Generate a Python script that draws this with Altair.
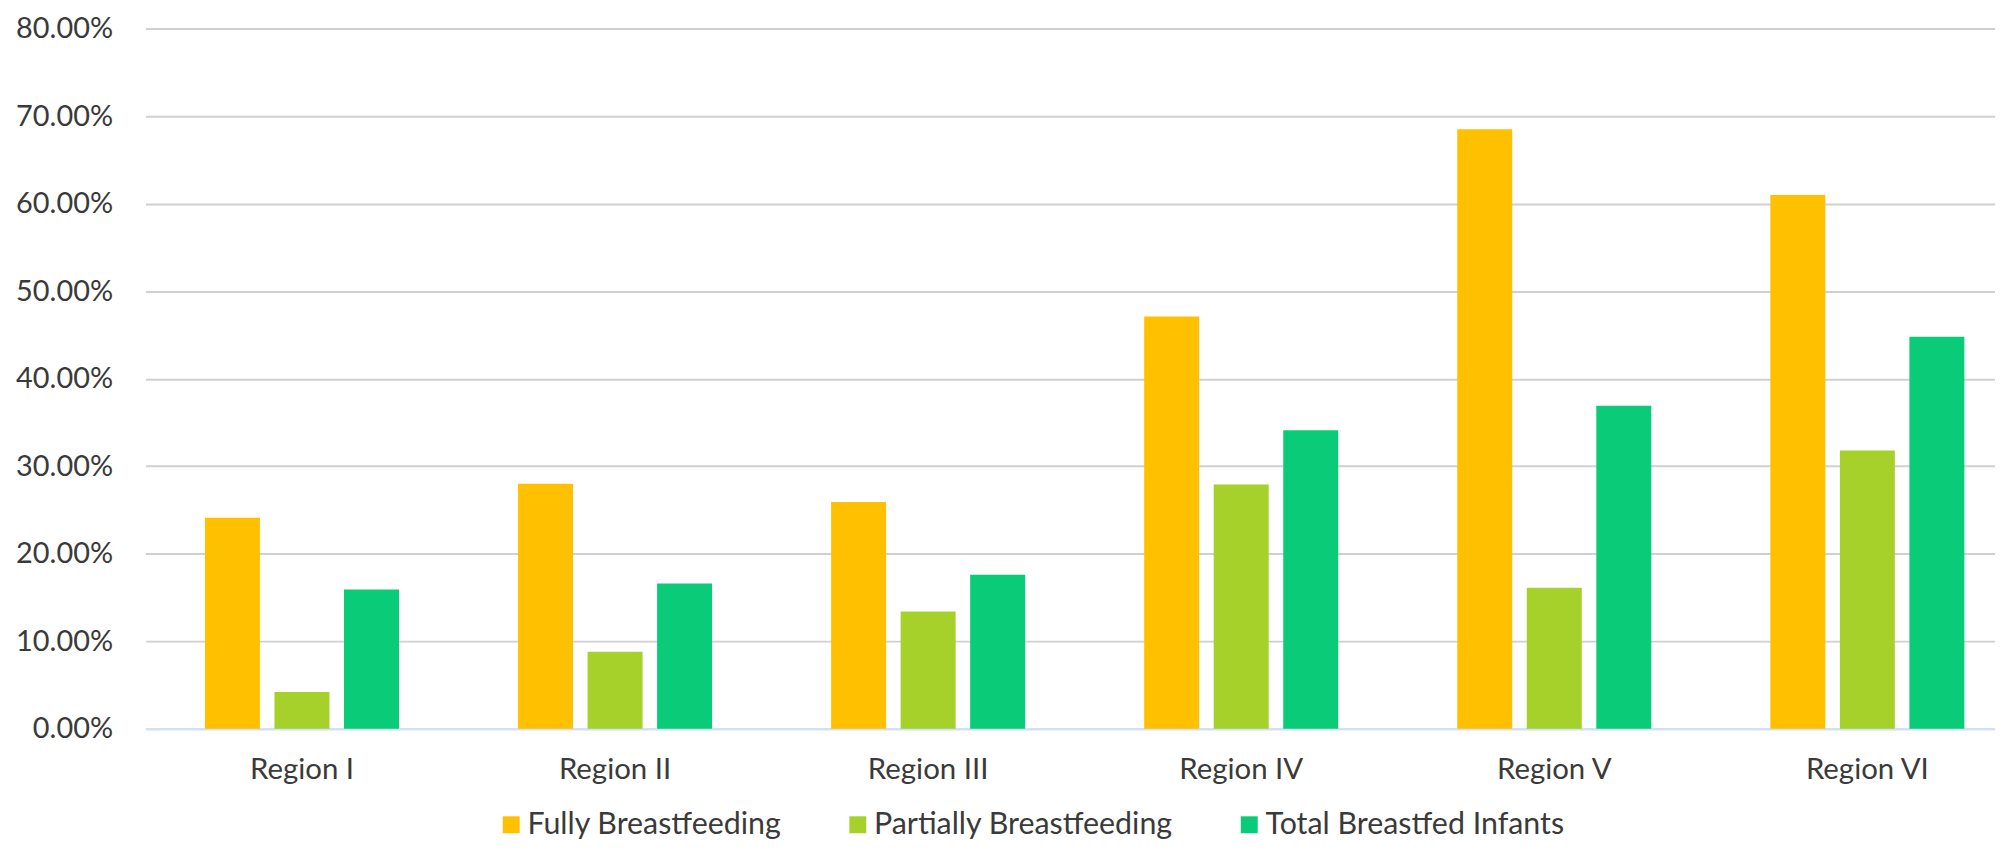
import altair as alt
import pandas as pd

regions = ["Region I", "Region II", "Region III", "Region IV", "Region V", "Region VI"]
series = ["Fully Breastfeeding", "Partially Breastfeeding", "Total Breastfed Infants"]
fully = [0.241, 0.280, 0.259, 0.471, 0.685, 0.610]
partially = [0.042, 0.088, 0.134, 0.279, 0.161, 0.318]
total = [0.159, 0.166, 0.176, 0.341, 0.369, 0.448]
colors = ["#FFC000", "#A6D12B", "#0ACC78"]
y_ticks = [0, 0.1, 0.2, 0.3, 0.4, 0.5, 0.6, 0.7, 0.8]

rows = []
for vals, s in zip([fully, partially, total], series):
    for r, v in zip(regions, vals):
        rows.append({"Region": r, "Series": s, "Value": v})
df = pd.DataFrame(rows)

FONT = "Lato"
TXT = "#3A3A3A"

chart = alt.Chart(df).mark_bar().encode(
    x=alt.X("Region:N", sort=regions, title=None,
            scale=alt.Scale(paddingInner=0, paddingOuter=0, range=[1, 1887]),
            axis=alt.Axis(labelAngle=0, ticks=False, tickSize=0, domain=True,
                          domainColor="#CFE2F6", domainWidth=2,
                          labelFont=FONT, labelFontSize=29.5, labelColor=TXT,
                          labelPadding=27)),
    xOffset=alt.XOffset("Series:N", sort=series,
                        scale=alt.Scale(paddingInner=0.209, paddingOuter=0.856)),
    y=alt.Y("Value:Q", title=None,
            scale=alt.Scale(domain=[0, 0.8], nice=False),
            axis=alt.Axis(format=".2%", values=y_ticks, ticks=False, tickSize=0,
                          domain=False, grid=True, gridColor="#D0D0D0", gridWidth=2,
                          labelFont=FONT, labelFontSize=29, labelColor=TXT,
                          labelPadding=32)),
    color=alt.Color("Series:N", sort=series,
                    scale=alt.Scale(domain=series, range=colors),
                    legend=alt.Legend(title=None, orient="none", direction="horizontal",
                                      legendX=353, legendY=784,
                                      symbolType="square", symbolSize=289,
                                      symbolStrokeWidth=0, symbolOpacity=1,
                                      labelFont=FONT, labelFontSize=30.5, labelColor=TXT,
                                      labelOffset=1, columnPadding=61, labelLimit=0)),
).properties(
    width=1858,
    height=703,
    autosize=alt.AutoSizeParams(type="none"),
    padding={"left": 137, "top": 19, "right": 0, "bottom": 111},
).configure_view(stroke=None)

chart.save("out.html", embed_options={"renderer": "svg", "actions": False})
